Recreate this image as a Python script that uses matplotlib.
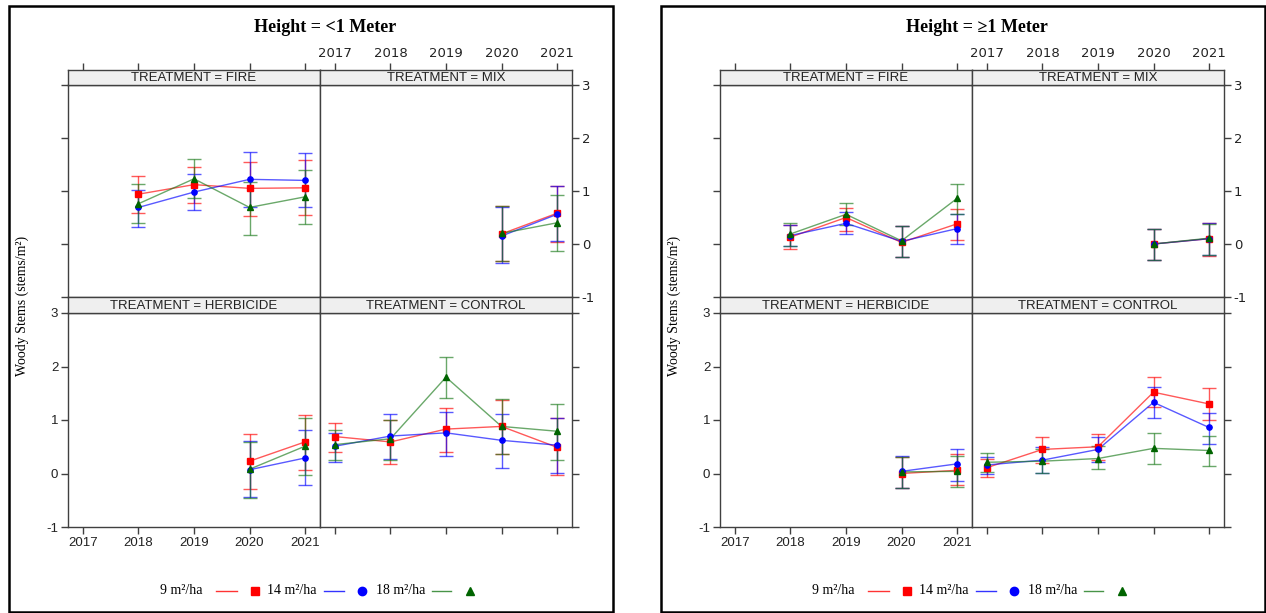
import numpy as np
import matplotlib
matplotlib.use('Agg')
import matplotlib.pyplot as plt
from matplotlib.lines import Line2D
from matplotlib.patches import Rectangle

plt.rcParams['axes.unicode_minus'] = False

nan = np.nan
years = [2017, 2018, 2019, 2020, 2021]
series_labels = ['9 m\u00b2/ha', '14 m\u00b2/ha', '18 m\u00b2/ha']
treatments = ['FIRE', 'MIX', 'HERBICIDE', 'CONTROL']
heights = ['Height = <1 Meter', 'Height = \u22651 Meter']

# rows: 9, 14, 18 m2/ha ; columns: years
lt1_fire_mean = [[nan, 0.94, 1.12, 1.05, 1.06], [nan, 0.69, 0.98, 1.22, 1.20], [nan, 0.76, 1.23, 0.69, 0.89]]
lt1_fire_lo = [[nan, 0.58, 0.78, 0.53, 0.55], [nan, 0.33, 0.64, 0.70, 0.70], [nan, 0.39, 0.86, 0.17, 0.38]]
lt1_fire_hi = [[nan, 1.28, 1.45, 1.55, 1.58], [nan, 1.02, 1.32, 1.74, 1.72], [nan, 1.14, 1.60, 1.17, 1.40]]

lt1_mix_mean = [[nan, nan, nan, 0.19, 0.58], [nan, nan, nan, 0.15, 0.56], [nan, nan, nan, 0.20, 0.40]]
lt1_mix_lo = [[nan, nan, nan, -0.33, 0.04], [nan, nan, nan, -0.36, 0.06], [nan, nan, nan, -0.32, -0.13]]
lt1_mix_hi = [[nan, nan, nan, 0.71, 1.09], [nan, nan, nan, 0.70, 1.09], [nan, nan, nan, 0.71, 0.92]]

lt1_herb_mean = [[nan, nan, nan, 0.23, 0.59], [nan, nan, nan, 0.07, 0.29], [nan, nan, nan, 0.08, 0.51]]
lt1_herb_lo = [[nan, nan, nan, -0.29, 0.07], [nan, nan, nan, -0.44, -0.21], [nan, nan, nan, -0.45, -0.02]]
lt1_herb_hi = [[nan, nan, nan, 0.73, 1.09], [nan, nan, nan, 0.61, 0.82], [nan, nan, nan, 0.59, 1.03]]

lt1_ctrl_mean = [[0.69, 0.59, 0.83, 0.88, 0.49], [0.51, 0.70, 0.76, 0.62, 0.53], [0.54, 0.65, 1.80, 0.88, 0.79]]
lt1_ctrl_lo = [[0.40, 0.17, 0.40, 0.36, -0.02], [0.21, 0.28, 0.33, 0.10, 0.01], [0.26, 0.26, 1.42, 0.37, 0.26]]
lt1_ctrl_hi = [[0.95, 1.00, 1.23, 1.38, 1.03], [0.76, 1.12, 1.15, 1.12, 1.03], [0.81, 1.00, 2.17, 1.39, 1.29]]

ge1_fire_mean = [[nan, 0.13, 0.50, 0.03, 0.38], [nan, 0.16, 0.39, 0.05, 0.29], [nan, 0.19, 0.56, 0.06, 0.86]]
ge1_fire_lo = [[nan, -0.09, 0.25, -0.25, 0.08], [nan, -0.04, 0.19, -0.25, 0.00], [nan, -0.03, 0.35, -0.24, 0.56]]
ge1_fire_hi = [[nan, 0.35, 0.67, 0.34, 0.66], [nan, 0.36, 0.60, 0.34, 0.56], [nan, 0.40, 0.78, 0.34, 1.14]]

ge1_mix_mean = [[nan, nan, nan, 0.00, 0.10], [nan, nan, nan, 0.00, 0.10], [nan, nan, nan, 0.00, 0.11]]
ge1_mix_lo = [[nan, nan, nan, -0.31, -0.22], [nan, nan, nan, -0.31, -0.20], [nan, nan, nan, -0.30, -0.21]]
ge1_mix_hi = [[nan, nan, nan, 0.28, 0.39], [nan, nan, nan, 0.28, 0.39], [nan, nan, nan, 0.29, 0.38]]

ge1_herb_mean = [[nan, nan, nan, 0.00, 0.06], [nan, nan, nan, 0.04, 0.18], [nan, nan, nan, 0.03, 0.04]]
ge1_herb_lo = [[nan, nan, nan, -0.27, -0.22], [nan, nan, nan, -0.27, -0.14], [nan, nan, nan, -0.27, -0.25]]
ge1_herb_hi = [[nan, nan, nan, 0.31, 0.36], [nan, nan, nan, 0.33, 0.45], [nan, nan, nan, 0.31, 0.33]]

ge1_ctrl_mean = [[0.11, 0.45, 0.50, 1.52, 1.30], [0.16, 0.25, 0.45, 1.33, 0.86], [0.21, 0.23, 0.28, 0.47, 0.43]]
ge1_ctrl_lo = [[-0.06, 0.19, 0.26, 1.24, 1.00], [0.00, 0.01, 0.22, 1.04, 0.55], [0.03, 0.01, 0.08, 0.18, 0.14]]
ge1_ctrl_hi = [[0.28, 0.68, 0.73, 1.80, 1.59], [0.31, 0.50, 0.69, 1.61, 1.13], [0.38, 0.45, 0.51, 0.75, 0.71]]

panels = [
    [(lt1_fire_mean, lt1_fire_lo, lt1_fire_hi), (lt1_mix_mean, lt1_mix_lo, lt1_mix_hi),
     (lt1_herb_mean, lt1_herb_lo, lt1_herb_hi), (lt1_ctrl_mean, lt1_ctrl_lo, lt1_ctrl_hi)],
    [(ge1_fire_mean, ge1_fire_lo, ge1_fire_hi), (ge1_mix_mean, ge1_mix_lo, ge1_mix_hi),
     (ge1_herb_mean, ge1_herb_lo, ge1_herb_hi), (ge1_ctrl_mean, ge1_ctrl_lo, ge1_ctrl_hi)],
]

line_colors = ['#ff0000', '#0000ff', '#1a7a1a']
mark_colors = ['#ff0000', '#0000ff', '#006400']
markers = ['s', 'o', '^']
SERIF = ['Liberation Serif', 'DejaVu Serif']
SANS = ['Liberation Sans', 'DejaVu Sans']
AXC = '#404040'

W, H = 1266, 613
fig = plt.figure(figsize=(W / 100, H / 100), dpi=100)


def box(x0, y0, x1, y1):
    return [x0 / W, 1 - y1 / H, (x1 - x0) / W, (y1 - y0) / H]


def fx(x):
    return x / W


def fy(y):
    return 1 - y / H


def style(ax):
    for s in ax.spines.values():
        s.set_color(AXC)
        s.set_linewidth(1.0)
    ax.tick_params(direction='out', length=5, width=1, color=AXC, labelsize=9.5,
                   labelcolor='#222222', pad=2)
    for lab in ax.get_xticklabels() + ax.get_yticklabels():
        lab.set_family(SANS)


cols = [(68, 320), (320, 572)]
rows = [((70, 85), (85, 297)), ((297, 313), (313, 527))]
xlim = (2016.73, 2021.27)

for h, ox in enumerate([0, 652]):
    # outer frame
    fig.add_artist(Rectangle((fx(9 + ox), fy(612)), 604 / W, 606 / H,
                             transform=fig.transFigure, fill=False, ec='black', lw=1.8))
    fig.text(fx(325 + ox), fy(27), heights[h], ha='center', va='center',
             fontsize=13, fontweight='bold', family=SERIF)
    fig.text(fx(22 + ox), fy(306), 'Woody Stems (stems/m\u00b2)', ha='center', va='center',
             rotation=90, fontsize=10, family=SERIF)

    for k in range(4):
        r, c = divmod(k, 2)
        (sy0, sy1), (py0, py1) = rows[r]
        x0, x1 = cols[c]
        ax = fig.add_axes(box(x0 + ox, py0, x1 + ox, py1))
        sax = fig.add_axes(box(x0 + ox, sy0, x1 + ox, sy1))

        mean, lo, hi = panels[h][k]
        for i in range(3):
            m = np.array(mean[i])
            l = np.array(lo[i])
            u = np.array(hi[i])
            ax.errorbar(years, m, yerr=[m - l, u - m], color=line_colors[i], alpha=0.65,
                        lw=1.0, elinewidth=1.0, capsize=5, capthick=1.0)
            ax.plot(years, m, ls='none', marker=markers[i], color=mark_colors[i],
                    ms=3.8, zorder=5)

        ax.set_xlim(*xlim)
        ax.set_ylim(-1, 3)
        ax.set_xticks(years)
        ax.set_yticks([-1, 0, 1, 2, 3])
        style(ax)
        if c == 0:
            ax.tick_params(axis='y', left=True, right=False, labelleft=(r == 1), labelright=False)
        else:
            ax.tick_params(axis='y', left=False, right=True, labelleft=False, labelright=(r == 0))
        if r == 0:
            ax.tick_params(axis='x', bottom=False, top=False, labelbottom=False)
        else:
            ax.tick_params(axis='x', bottom=True, labelbottom=(c == 0))

        sax.set_facecolor('#efefef')
        sax.set_xlim(*xlim)
        sax.set_ylim(0, 1)
        sax.set_yticks([])
        sax.set_xticks(years)
        style(sax)
        if r == 0:
            sax.tick_params(axis='x', bottom=False, labelbottom=False, top=True,
                            labeltop=(c == 1))
        else:
            sax.tick_params(axis='x', bottom=False, labelbottom=False, top=False)
        sax.text(0.5, 0.45, 'TREATMENT = ' + treatments[k], transform=sax.transAxes,
                 ha='center', va='center', fontsize=9.5, family=SANS, color='#222222')

    # legend key
    ly = fy(591)
    text_x = [160, 267, 376]
    line_x = [(216, 237), (324, 344), (432, 451)]
    mark_x = [255, 362, 470]
    for i in range(3):
        fig.text(fx(text_x[i] + ox), ly, series_labels[i], ha='left', va='center',
                 fontsize=10, family=SERIF)
        fig.add_artist(Line2D([fx(line_x[i][0] + ox), fx(line_x[i][1] + ox)], [ly, ly],
                              color=line_colors[i], alpha=0.8, lw=1.0, transform=fig.transFigure))
        fig.add_artist(Line2D([fx(mark_x[i] + ox)], [ly], marker=markers[i], ls='none',
                              color=mark_colors[i], ms=6, transform=fig.transFigure))

fig.savefig('out.png', dpi=100)
